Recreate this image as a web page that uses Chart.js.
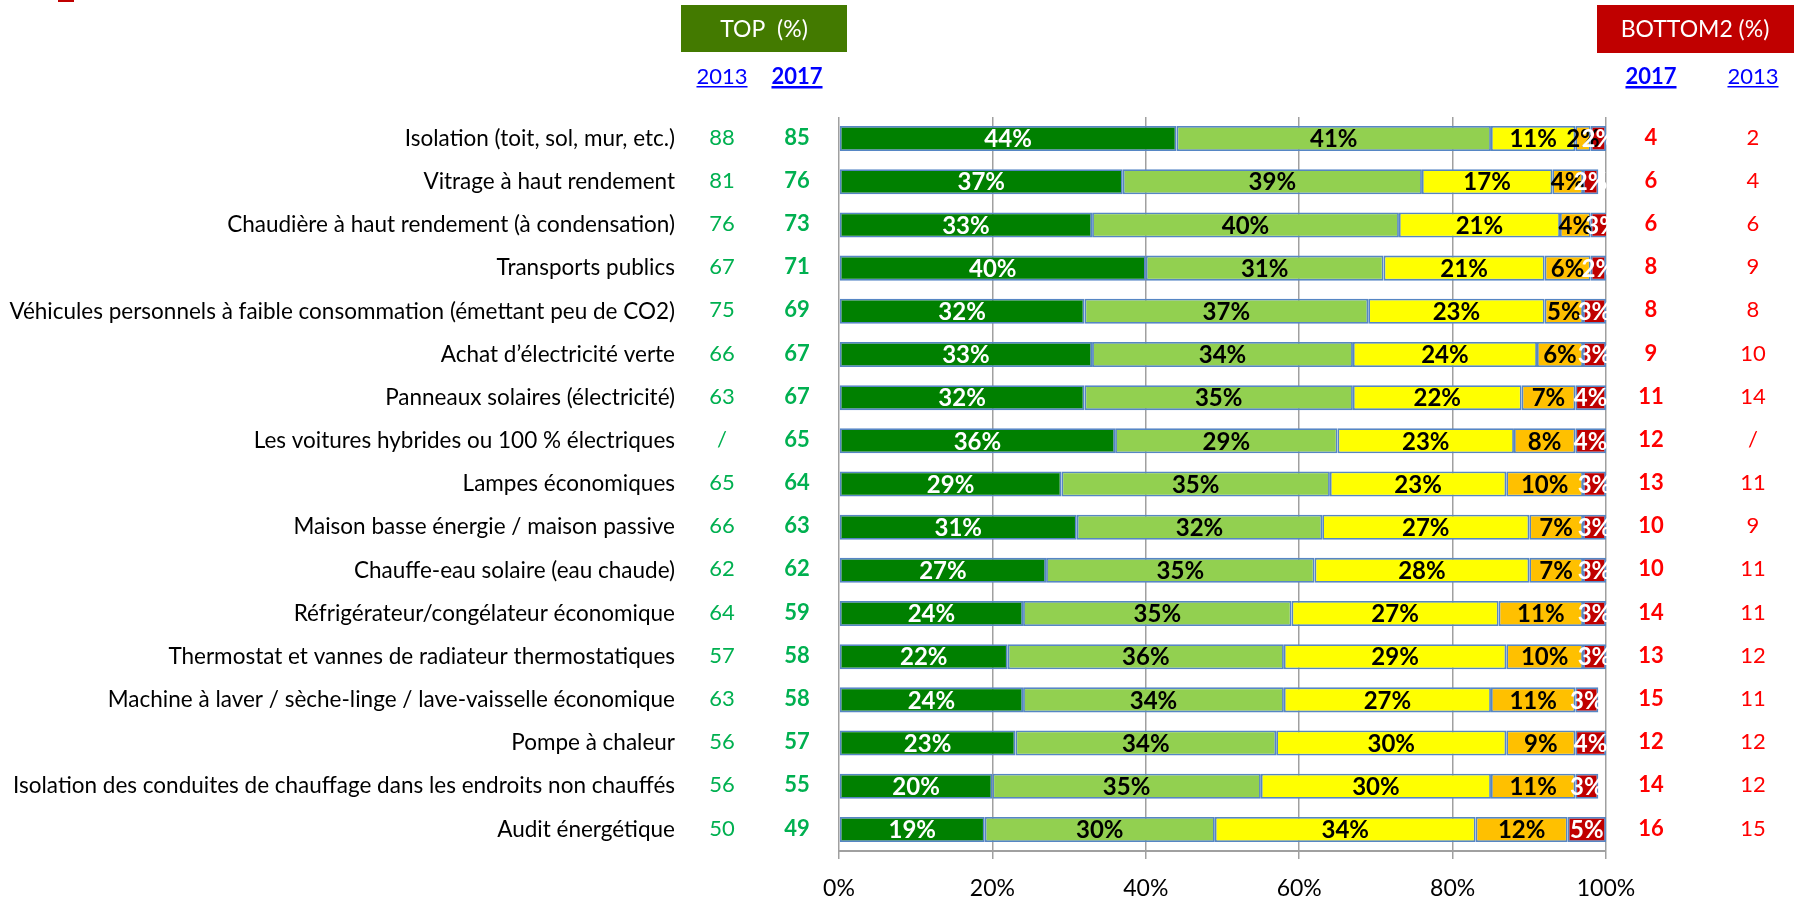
<!DOCTYPE html>
<html>
<head>
<meta charset="utf-8">
<title>Équipements économes en énergie</title>
<script src="https://cdn.jsdelivr.net/npm/chart.js@4.4.1/dist/chart.umd.min.js"></script>
<style>
  html, body { margin: 0; padding: 0; background: #fff; }
  canvas { display: block; }
</style>
</head>
<body>
<canvas id="chart" width="1804" height="897"></canvas>
<script>
const categories = [
  "Isolation (toit, sol, mur, etc.)",
  "Vitrage à haut rendement",
  "Chaudière à haut rendement (à condensation)",
  "Transports publics",
  "Véhicules personnels à faible consommation (émettant peu de CO2)",
  "Achat d’électricité verte",
  "Panneaux solaires (électricité)",
  "Les voitures hybrides ou 100 % électriques",
  "Lampes économiques",
  "Maison basse énergie / maison passive",
  "Chauffe-eau solaire (eau chaude)",
  "Réfrigérateur/congélateur économique",
  "Thermostat et vannes de radiateur thermostatiques",
  "Machine à laver / sèche-linge / lave-vaisselle économique",
  "Pompe à chaleur",
  "Isolation des conduites de chauffage dans les endroits non chauffés",
  "Audit énergétique"
];

// answer shares per item, in %
const veryLikely   = [44, 37, 33, 40, 32, 33, 32, 36, 29, 31, 27, 24, 22, 24, 23, 20, 19];
const ratherLikely = [41, 39, 40, 31, 37, 34, 35, 29, 35, 32, 35, 35, 36, 34, 34, 35, 30];
const neutral      = [11, 17, 21, 21, 23, 24, 22, 23, 23, 27, 28, 27, 29, 27, 30, 30, 34];
const ratherNot    = [2, 4, 4, 6, 5, 6, 7, 8, 10, 7, 7, 11, 10, 11, 9, 11, 12];
const notAtAll     = [2, 2, 3, 2, 3, 3, 4, 4, 3, 3, 3, 3, 3, 3, 4, 3, 5];

// side columns
const top2013    = ["88", "81", "76", "67", "75", "66", "63", "/", "65", "66", "62", "64", "57", "63", "56", "56", "50"];
const top2017    = ["85", "76", "73", "71", "69", "67", "67", "65", "64", "63", "62", "59", "58", "58", "57", "55", "49"];
const bottom2017 = ["4", "6", "6", "8", "8", "9", "11", "12", "13", "10", "10", "14", "13", "15", "12", "14", "16"];
const bottom2013 = ["2", "4", "6", "9", "8", "10", "14", "/", "11", "9", "11", "11", "12", "11", "12", "12", "15"];

const xTicks = [0, 20, 40, 60, 80, 100];

const FONT = "Lato, 'Open Sans', sans-serif";
const segColors = ["#008000", "#92D050", "#FFFF00", "#FFC000", "#C00000"];
const labelColors = ["#FFFFFF", "#000000", "#000000", "#000000", "#FFFFFF"];

const series = [veryLikely, ratherLikely, neutral, ratherNot, notAtAll];

const datasets = series.map((values, i) => ({
  data: values,
  backgroundColor: segColors[i],
  borderColor: "#5686C4",
  borderWidth: 1.8,
  borderSkipped: false,
  barPercentage: 0.58,
  categoryPercentage: 1
}));

// percentage labels centred in each segment
const segmentLabels = {
  id: "segmentLabels",
  afterDatasetsDraw(chart) {
    const ctx = chart.ctx;
    const area = chart.chartArea;
    ctx.save();
    ctx.beginPath();
    ctx.rect(area.left, area.top - 5, area.right - area.left + 2, area.bottom - area.top + 10);
    ctx.clip();
    ctx.font = "bold 24px " + FONT;
    ctx.textAlign = "center";
    ctx.textBaseline = "middle";
    chart.data.datasets.forEach((ds, i) => {
      chart.getDatasetMeta(i).data.forEach((bar, j) => {
        const p = bar.getProps(["x", "y", "base"], true);
        ctx.fillStyle = labelColors[i];
        ctx.fillText(ds.data[j] + "%", (p.x + p.base) / 2, p.y + 1);
      });
    });
    ctx.restore();
  }
};

// headers and the TOP / BOTTOM2 number columns
const sideColumns = {
  id: "sideColumns",
  afterDraw(chart) {
    const ctx = chart.ctx;
    const y = chart.scales.y;
    ctx.save();

    ctx.fillStyle = "#C00000";
    ctx.fillRect(58, 0, 16, 2);

    ctx.fillStyle = "#437A00";
    ctx.fillRect(681, 5, 166, 47);
    ctx.fillStyle = "#C00000";
    ctx.fillRect(1597, 5, 197, 48);

    ctx.textAlign = "center";
    ctx.textBaseline = "middle";
    ctx.fillStyle = "#FFFFFF";
    ctx.font = "23px " + FONT;
    ctx.fillText("TOP  (%)", 764, 30);
    ctx.fillText("BOTTOM2 (%)", 1695, 30);

    const header = (text, x, bold) => {
      ctx.font = (bold ? "bold " : "") + "22px " + FONT;
      ctx.fillStyle = "#0000FF";
      ctx.fillText(text, x, 77);
      const w = ctx.measureText(text).width;
      ctx.fillRect(x - w / 2, 86, w, bold ? 2.5 : 1.5);
    };
    header("2013", 722, false);
    header("2017", 797, true);
    header("2017", 1651, true);
    header("2013", 1753, false);

    categories.forEach((c, i) => {
      const py = y.getPixelForValue(i) - 1;
      ctx.font = "22px " + FONT;
      ctx.fillStyle = "#00B050";
      ctx.fillText(top2013[i], 722, py);
      ctx.font = "bold 22px " + FONT;
      ctx.fillText(top2017[i], 797, py);
      ctx.fillStyle = "#FF0000";
      ctx.fillText(bottom2017[i], 1651, py);
      ctx.font = "22px " + FONT;
      ctx.fillText(bottom2013[i], 1753, py);
    });
    ctx.restore();
  }
};

new Chart(document.getElementById("chart"), {
  type: "bar",
  data: { labels: categories, datasets },
  plugins: [segmentLabels, sideColumns],
  options: {
    indexAxis: "y",
    responsive: false,
    devicePixelRatio: 1,
    animation: false,
    layout: { padding: { top: 117, right: 198, bottom: 0, left: 0 } },
    plugins: { legend: { display: false }, tooltip: { enabled: false } },
    scales: {
      x: {
        stacked: true,
        min: 0,
        max: 100,
        afterBuildTicks: scale => { scale.ticks = xTicks.map(v => ({ value: v })); },
        afterFit: scale => {
          scale.height = 46;
          scale.paddingLeft = 0;
          scale.paddingRight = 0;
        },
        grid: { color: "#A0A0A0", lineWidth: 1.5, drawTicks: true, tickLength: 8 },
        border: { display: true, color: "#A0A0A0", width: 2 },
        ticks: {
          padding: 16,
          color: "#000",
          font: { family: FONT, size: 23 },
          callback: v => v + "%"
        }
      },
      y: {
        stacked: true,
        // the wide label gap would otherwise add the same padding above and below
        afterFit: scale => {
          scale.width = 839;
          scale.paddingTop = 0;
          scale.paddingBottom = 0;
        },
        grid: { display: false, drawTicks: false },
        border: { display: false },
        ticks: {
          padding: 164,
          color: "#000",
          autoSkip: false,
          font: { family: FONT, size: 22.5 }
        }
      }
    }
  }
});
</script>
</body>
</html>
